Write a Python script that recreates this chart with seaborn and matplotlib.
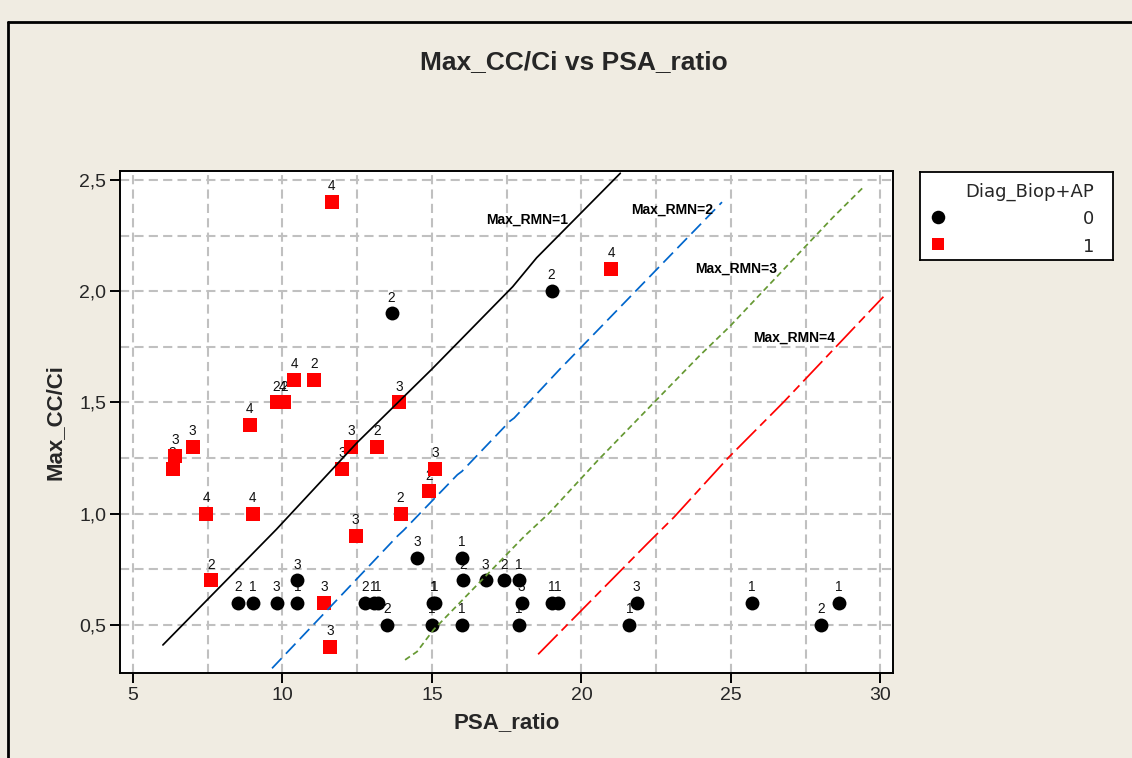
import matplotlib
matplotlib.use("Agg")
import matplotlib.pyplot as plt
from matplotlib.ticker import MultipleLocator, FuncFormatter
from matplotlib.lines import Line2D
import pandas as pd
import seaborn as sns

# ---- data -------------------------------------------------------------
# Diag_Biop+AP = 0 (black circles)
psa_0 = [13.65, 19.0, 8.5, 9.0, 9.8, 10.5, 10.5, 12.75, 13.05, 13.2, 13.5,
         14.5, 15.05, 15.1, 15.0, 16.0, 16.05, 16.0, 16.8, 17.4, 17.9, 18.0,
         17.9, 19.0, 19.2, 21.85, 21.6, 25.7, 28.0, 28.6]
cc_0 = [1.9, 2.0, 0.6, 0.6, 0.6, 0.6, 0.7, 0.6, 0.6, 0.6, 0.5,
        0.8, 0.6, 0.6, 0.5, 0.8, 0.7, 0.5, 0.7, 0.7, 0.7, 0.6,
        0.5, 0.6, 0.6, 0.6, 0.5, 0.6, 0.5, 0.6]
rmn_0 = [2, 2, 2, 1, 3, 1, 3, 2, 1, 1, 2,
         3, 1, 1, 1, 1, 2, 1, 3, 2, 1, 3,
         1, 1, 1, 3, 1, 1, 2, 1]

# Diag_Biop+AP = 1 (red squares)
psa_1 = [11.65, 10.4, 11.05, 9.8, 10.0, 10.05, 8.9, 7.0, 6.4, 6.33, 12.3,
         13.17, 12.0, 13.9, 15.1, 14.9, 13.95, 7.45, 9.0, 12.45, 7.6, 11.4,
         11.6, 21.0]
cc_1 = [2.4, 1.6, 1.6, 1.5, 1.5, 1.5, 1.4, 1.3, 1.26, 1.2, 1.3,
        1.3, 1.2, 1.5, 1.2, 1.1, 1.0, 1.0, 1.0, 0.9, 0.7, 0.6,
        0.4, 2.1]
rmn_1 = [4, 4, 2, 2, 4, 2, 4, 3, 3, 3, 3,
         2, 3, 3, 3, 2, 2, 4, 4, 3, 2, 3,
         3, 4]

# Max_RMN reference curves
rmn1_x = [6.0, 9.8, 12.5, 15.0, 17.7, 18.5, 21.3]
rmn1_y = [0.41, 0.93, 1.32, 1.65, 2.02, 2.15, 2.53]
rmn2_x = [9.65, 13.85, 14.05, 15.85, 16.0, 17.6, 17.75, 19.35, 19.5, 24.7]
rmn2_y = [0.305, 0.90, 0.925, 1.175, 1.19, 1.415, 1.43, 1.66, 1.68, 2.40]
rmn3_x = [14.1, 14.5, 15.05, 18.1, 18.9, 20.55, 22.5, 23.95, 24.95, 28.4, 29.45]
rmn3_y = [0.343, 0.38, 0.478, 0.90, 1.0, 1.24, 1.51, 1.71, 1.84, 2.33, 2.47]
rmn4_x = [18.55, 22.2, 23.1, 24.9, 26.75, 30.1]
rmn4_y = [0.368, 0.865, 0.985, 1.25, 1.5, 1.975]

curve_names = ["Max_RMN=1", "Max_RMN=2", "Max_RMN=3", "Max_RMN=4"]
curve_label_x = [18.17, 23.04, 25.16, 27.12]
curve_label_y = [2.323, 2.368, 2.103, 1.793]

x_ticks = [5, 10, 15, 20, 25, 30]
y_ticks = [0.5, 1.0, 1.5, 2.0, 2.5]

# ---- styling ---------------------------------------------------------
W, H = 1132, 758
BG = "#F0ECE2"
SANS = ["Liberation Sans", "DejaVu Sans"]

sns.set_theme(style="white")
plt.rcParams["font.family"] = SANS

fig = plt.figure(figsize=(W / 100, H / 100), dpi=100, facecolor=BG)
ax = fig.add_axes([120 / W, 1 - 673 / H, (893 - 120) / W, (673 - 171) / H])
ax.set_facecolor("white")

df0 = pd.DataFrame({"PSA_ratio": psa_0, "Max_CC/Ci": cc_0, "Max_RMN": rmn_0})
df1 = pd.DataFrame({"PSA_ratio": psa_1, "Max_CC/Ci": cc_1, "Max_RMN": rmn_1})

# value labels sit under the markers
for df in (df0, df1):
    for _, r in df.iterrows():
        ax.annotate(str(int(r["Max_RMN"])), (r["PSA_ratio"], r["Max_CC/Ci"]),
                    xytext=(0, 11.3), textcoords="offset points",
                    ha="center", va="center", fontsize=9.8,
                    color="#111111", zorder=2)

sns.scatterplot(data=df0, x="PSA_ratio", y="Max_CC/Ci", ax=ax, color="black",
                marker="o", s=100, linewidth=0, legend=False, zorder=3)
sns.scatterplot(data=df1, x="PSA_ratio", y="Max_CC/Ci", ax=ax, color="#FF0000",
                marker="s", s=88, linewidth=0, legend=False, zorder=3)

curves = [
    (rmn1_x, rmn1_y, "black", "-"),
    (rmn2_x, rmn2_y, "#0066CC", (0, (8.0, 3.6))),
    (rmn3_x, rmn3_y, "#669933", (0, (3.4, 2.2))),
    (rmn4_x, rmn4_y, "#FF0000", (0, (16, 3.2, 5, 3.2))),
]
for cx, cy, col, ls in curves:
    sns.lineplot(x=cx, y=cy, ax=ax, color=col, linestyle=ls, linewidth=1.25,
                 sort=False, estimator=None, legend=False, zorder=4)

for name, lx, ly in zip(curve_names, curve_label_x, curve_label_y):
    ax.text(lx, ly, name, ha="center", va="center", fontsize=10,
            fontweight="bold", color="black", zorder=5)

ax.set_xlim(4.565, 30.42)
ax.set_ylim(0.284, 2.54)
ax.set_xticks(x_ticks)
ax.set_yticks(y_ticks)
ax.xaxis.set_minor_locator(MultipleLocator(2.5))
ax.yaxis.set_minor_locator(MultipleLocator(0.25))
ax.yaxis.set_major_formatter(FuncFormatter(lambda v, p: f"{v:.1f}".replace(".", ",")))
ax.grid(True, which="both", color="#C0C0C0", linewidth=1.5,
        linestyle=(0, (4.4, 2.5)), zorder=0)
ax.set_axisbelow(True)
ax.tick_params(which="major", direction="out", length=7, width=1.4,
               color="black", labelsize=14, pad=3, bottom=True, left=True)
ax.tick_params(which="minor", length=0)
for sp in ax.spines.values():
    sp.set_color("black")
    sp.set_linewidth(1.4)

ax.set_xlabel("PSA_ratio", fontsize=16, fontweight="bold")
ax.set_ylabel("Max_CC/Ci", fontsize=16, fontweight="bold")
ax.xaxis.set_label_coords(0.5, -(723 - 673) / (673 - 171))
ax.xaxis.label.set_va("center")
ax.yaxis.set_label_coords((55 - 120) / (893 - 120), 0.5)
ax.yaxis.label.set_va("center")

fig.text(574 / W, 1 - 62 / H, "Max_CC/Ci vs PSA_ratio", ha="center", va="center",
         fontsize=19, fontweight="bold")

# legend panel
lax = fig.add_axes([920 / W, 1 - 260 / H, 193 / W, 88 / H])
lax.set_xlim(0, 193)
lax.set_ylim(88, 0)
lax.set_facecolor("white")
lax.set_xticks([])
lax.set_yticks([])
for sp in lax.spines.values():
    sp.set_color("black")
    sp.set_linewidth(1.3)
sns.scatterplot(x=[18], y=[45], ax=lax, color="black", marker="o", s=95,
                linewidth=0, legend=False)
sns.scatterplot(x=[18], y=[72.5], ax=lax, color="#FF0000", marker="s", s=85,
                linewidth=0, legend=False)
lax.set_xlabel("")
lax.set_ylabel("")
lkw = dict(ha="right", va="center", fontsize=13, family=["DejaVu Sans"])
lax.text(174, 19.5, "Diag_Biop+AP", **lkw)
lax.text(174, 46.5, "0", **lkw)
lax.text(174, 75, "1", **lkw)

# outer frame of the figure (left and top edges)
fig.add_artist(Line2D([8 / W, 8 / W], [0, 1 - 22 / H], transform=fig.transFigure,
                      color="black", linewidth=2))
fig.add_artist(Line2D([8 / W, 1], [1 - 22 / H, 1 - 22 / H], transform=fig.transFigure,
                      color="black", linewidth=2))

fig.savefig("out.png", dpi=100, facecolor=BG)
